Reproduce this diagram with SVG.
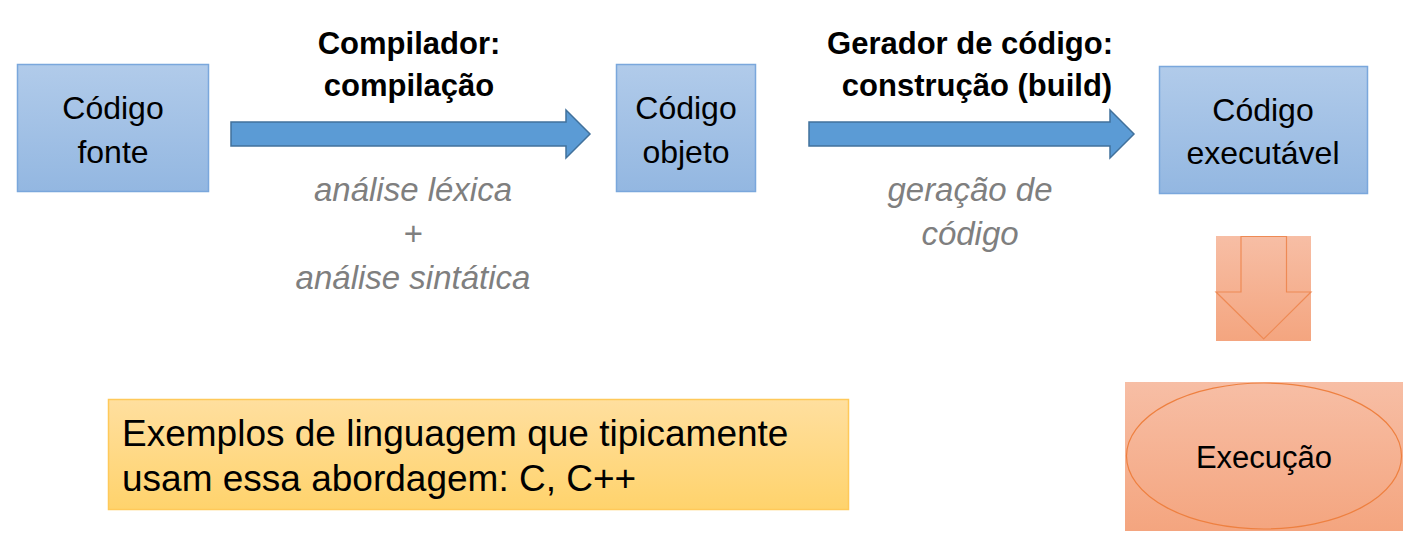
<svg xmlns="http://www.w3.org/2000/svg" width="1417" height="548" viewBox="0 0 1417 548">
<defs>
<linearGradient id="gBlue" x1="0" y1="0" x2="0" y2="1"><stop offset="0" stop-color="#b1cbea"/><stop offset="1" stop-color="#93b7e1"/></linearGradient>
<linearGradient id="gOrange" x1="0" y1="0" x2="0" y2="1"><stop offset="0" stop-color="#f7bea5"/><stop offset="1" stop-color="#f4a57f"/></linearGradient>
<linearGradient id="gYellow" x1="0" y1="0" x2="0" y2="1"><stop offset="0" stop-color="#ffdf9f"/><stop offset="1" stop-color="#ffd36c"/></linearGradient>
</defs>
<style>
.box{fill:url(#gBlue);stroke:#7aa7dc;stroke-width:1.5}
.arr{fill:#5b9bd5;stroke:#41719c;stroke-width:1.5}
.t{font-family:"Liberation Sans",Arial,sans-serif;fill:#000;text-anchor:middle}
.n{font-size:32px}
.b{font-size:31px;font-weight:bold}
.g{font-size:33px;font-style:italic;fill:#7f7f7f}
</style>
<g id="connectors">
<path class="arr" d="M231,122 L566,122 L566,110 L590,134 L566,158 L566,146 L231,146 Z"/>
<path class="arr" d="M809,122 L1110,122 L1110,110 L1134,134 L1110,158 L1110,146 L809,146 Z"/>
</g>
<g id="node-fonte">
<rect class="box" x="17.5" y="64.5" width="191" height="127"/>
<text class="t n" x="113" y="119">Código</text>
<text class="t n" x="113" y="163">fonte</text>
</g>
<g id="node-objeto">
<rect class="box" x="616.5" y="64.5" width="139" height="127"/>
<text class="t n" x="686" y="119">Código</text>
<text class="t n" x="686" y="163">objeto</text>
</g>
<g id="node-executavel">
<rect class="box" x="1159.5" y="66.5" width="208" height="127"/>
<text class="t n" x="1263" y="121">Código</text>
<text class="t n" x="1263" y="164">executável</text>
</g>
<g id="label-compilador">
<text class="t b" x="409" y="54">Compilador:</text>
<text class="t b" x="409" y="96">compilação</text>
<text class="t g" x="413" y="201">análise léxica</text>
<text class="t g" x="413" y="245">+</text>
<text class="t g" x="413" y="289">análise sintática</text>
</g>
<g id="label-gerador">
<text class="t b" x="970" y="54">Gerador de código:</text>
<text class="t b" x="977" y="96">construção (build)</text>
<text class="t g" x="970" y="201">geração de</text>
<text class="t g" x="970" y="245">código</text>
</g>
<g id="down-arrow">
<rect x="1216" y="236" width="95" height="105" fill="url(#gOrange)"/>
<path d="M1241,236.5 L1286.5,236.5 L1286.5,292 L1311,292 L1263.7,339 L1216,292 L1241,292 Z" fill="none" stroke="#ee8a55" stroke-width="1.2"/>
</g>
<g id="node-execucao">
<rect x="1125" y="382" width="278" height="149" fill="url(#gOrange)"/>
<ellipse cx="1264" cy="456" rx="137.5" ry="73" fill="none" stroke="#ee8040" stroke-width="1.2"/>
<text class="t" x="1264" y="468" font-size="31">Execução</text>
</g>
<g id="node-exemplos">
<rect x="108.5" y="399.5" width="740" height="110" fill="url(#gYellow)" stroke="#ffc95a" stroke-width="1.5"/>
<text font-family="'Liberation Sans',Arial,sans-serif" font-size="37" x="122" y="446">Exemplos de linguagem que tipicamente</text>
<text font-family="'Liberation Sans',Arial,sans-serif" font-size="37" x="122" y="491">usam essa abordagem: C, C++</text>
</g>
</svg>
